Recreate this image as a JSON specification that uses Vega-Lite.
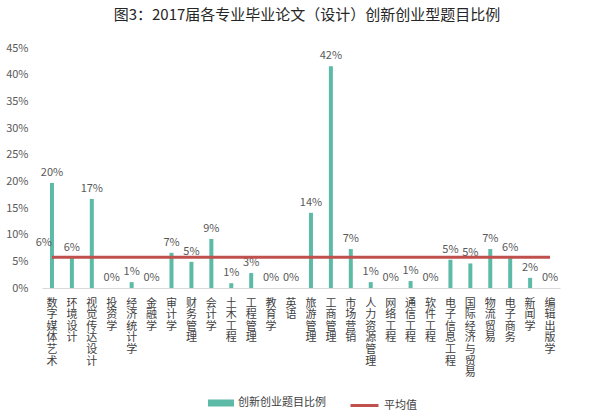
{
  "$schema": "https://vega.github.io/schema/vega-lite/v6.json",
  "width": 518,
  "height": 240,
  "autosize": {"type": "none"},
  "padding": {"left": 42, "top": 48, "right": 55, "bottom": 129},
  "title": {
    "text": "图3：2017届各专业毕业论文（设计）创新创业型题目比例",
    "fontSize": 15,
    "font": "Noto Sans CJK SC",
    "fontWeight": "normal",
    "color": "#262626",
    "offset": 19,
    "dx": 6
  },
  "data": {
    "values": [
      {"category": "数字媒体艺术", "value": 0.197, "avg": 0.0575},
      {"category": "环境设计", "value": 0.056, "avg": 0.0575},
      {"category": "视觉传达设计", "value": 0.167, "avg": 0.0575},
      {"category": "投资学", "value": 0.0, "avg": 0.0575},
      {"category": "经济统计学", "value": 0.011, "avg": 0.0575},
      {"category": "金融学", "value": 0.0, "avg": 0.0575},
      {"category": "审计学", "value": 0.066, "avg": 0.0575},
      {"category": "财务管理", "value": 0.049, "avg": 0.0575},
      {"category": "会计学", "value": 0.092, "avg": 0.0575},
      {"category": "土木工程", "value": 0.009, "avg": 0.0575},
      {"category": "工程管理", "value": 0.028, "avg": 0.0575},
      {"category": "教育学", "value": 0.0, "avg": 0.0575},
      {"category": "英语", "value": 0.0, "avg": 0.0575},
      {"category": "旅游管理", "value": 0.141, "avg": 0.0575},
      {"category": "工商管理", "value": 0.416, "avg": 0.0575},
      {"category": "市场营销", "value": 0.073, "avg": 0.0575},
      {"category": "人力资源管理", "value": 0.011, "avg": 0.0575},
      {"category": "网络工程", "value": 0.0, "avg": 0.0575},
      {"category": "通信工程", "value": 0.013, "avg": 0.0575},
      {"category": "软件工程", "value": 0.0, "avg": 0.0575},
      {"category": "电子信息工程", "value": 0.053, "avg": 0.0575},
      {"category": "国际经济与贸易", "value": 0.046, "avg": 0.0575},
      {"category": "物流贸易", "value": 0.073, "avg": 0.0575},
      {"category": "电子商务", "value": 0.056, "avg": 0.0575},
      {"category": "新闻学", "value": 0.019, "avg": 0.0575},
      {"category": "编辑出版学", "value": 0.0, "avg": 0.0575}
    ]
  },
  "encoding": {
    "x": {
      "field": "category",
      "type": "nominal",
      "sort": null,
      "scale": {"paddingInner": 0, "paddingOuter": 0},
      "axis": {
        "title": null,
        "labelAngle": 0,
        "labelExpr": "split(datum.label, '')",
        "labelLineHeight": 11.6,
        "labelFontSize": 11,
        "labelColor": "#404040",
        "labelBaseline": "top",
        "labelPadding": 9,
        "labelOverlap": false,
        "ticks": false,
        "domainColor": "#d9d9d9",
        "domainWidth": 1,
        "grid": false
      }
    }
  },
  "layer": [
    {
      "mark": {"type": "bar", "size": 4},
      "encoding": {
        "y": {
          "field": "value",
          "type": "quantitative",
          "scale": {"domain": [0, 0.45], "nice": false},
          "axis": {
            "title": null,
            "format": ".0%",
            "values": [0, 0.05, 0.1, 0.15, 0.2, 0.25, 0.3, 0.35, 0.4, 0.45],
            "labelOverlap": false,
            "grid": false,
            "domain": false,
            "ticks": false,
            "labelPadding": 14,
            "labelFontSize": 11,
            "labelColor": "#595959"
          }
        },
        "fill": {
          "datum": "创新创业题目比例",
          "type": "nominal",
          "scale": {"range": ["#5cbaa7"]},
          "legend": {
            "title": null,
            "orient": "none",
            "legendX": 166,
            "legendY": 342,
            "symbolType": "M-1,-0.27H1V0.27H-1Z",
            "symbolSize": 676,
            "symbolStrokeWidth": 0,
            "labelFontSize": 11,
            "labelColor": "#404040",
            "labelOffset": 4
          }
        }
      }
    },
    {
      "mark": {"type": "text", "dy": -10, "fontSize": 11, "color": "#595959"},
      "encoding": {
        "y": {
          "field": "value",
          "type": "quantitative",
          "axis": {
            "title": null,
            "format": ".0%",
            "values": [0, 0.05, 0.1, 0.15, 0.2, 0.25, 0.3, 0.35, 0.4, 0.45],
            "labelOverlap": false,
            "grid": false,
            "domain": false,
            "ticks": false,
            "labelPadding": 14,
            "labelFontSize": 11,
            "labelColor": "#595959"
          }
        },
        "text": {"field": "value", "type": "quantitative", "format": ".0%"}
      }
    },
    {
      "mark": {"type": "line", "strokeWidth": 3},
      "encoding": {
        "y": {
          "field": "avg",
          "type": "quantitative",
          "axis": {
            "title": null,
            "format": ".0%",
            "values": [0, 0.05, 0.1, 0.15, 0.2, 0.25, 0.3, 0.35, 0.4, 0.45],
            "labelOverlap": false,
            "grid": false,
            "domain": false,
            "ticks": false,
            "labelPadding": 14,
            "labelFontSize": 11,
            "labelColor": "#595959"
          }
        },
        "stroke": {
          "datum": "平均值",
          "type": "nominal",
          "scale": {"range": ["#c0504d"]},
          "legend": {
            "title": null,
            "orient": "none",
            "legendX": 307,
            "legendY": 342,
            "symbolType": "stroke",
            "symbolSize": 784,
            "symbolStrokeWidth": 3,
            "labelFontSize": 11,
            "labelColor": "#404040",
            "labelOffset": 4
          }
        }
      }
    },
    {
      "transform": [{"filter": "datum.category == '数字媒体艺术'"}],
      "mark": {"type": "text", "align": "right", "dx": 0, "dy": -14, "fontSize": 11, "color": "#595959"},
      "encoding": {
        "y": {
          "field": "avg",
          "type": "quantitative",
          "axis": {
            "title": null,
            "format": ".0%",
            "values": [0, 0.05, 0.1, 0.15, 0.2, 0.25, 0.3, 0.35, 0.4, 0.45],
            "labelOverlap": false,
            "grid": false,
            "domain": false,
            "ticks": false,
            "labelPadding": 14,
            "labelFontSize": 11,
            "labelColor": "#595959"
          }
        },
        "text": {"field": "avg", "type": "quantitative", "format": ".0%"}
      }
    }
  ],
  "config": {
    "font": "Noto Sans CJK SC",
    "view": {"stroke": null}
  }
}
